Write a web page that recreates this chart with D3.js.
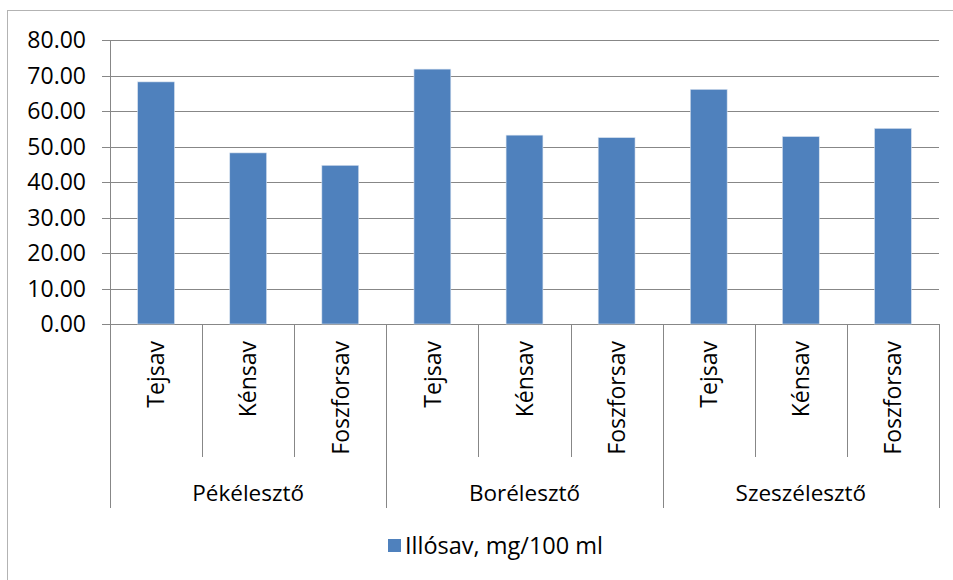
<!DOCTYPE html>
<html>
<head>
<meta charset="utf-8">
<script src="https://cdn.jsdelivr.net/npm/d3@7"></script>
<style>
  html, body { margin: 0; padding: 0; background: #fff; }
  svg { display: block; font-family: "Open Sans", "DejaVu Sans", sans-serif; }
</style>
</head>
<body>
<svg id="chart" width="953" height="580"></svg>
<script>
const groups = ["Pékélesztő", "Borélesztő", "Szeszélesztő"];
const acids = ["Tejsav", "Kénsav", "Foszforsav"];
const seriesName = "Illósav, mg/100 ml";
const values = [68.2, 48.2, 44.7, 71.8, 53.2, 52.5, 66.1, 52.8, 55.1];
const yTicks = [0, 10, 20, 30, 40, 50, 60, 70, 80];

(function () {
const svg = d3.select("#chart");
const W = 953, H = 580;
const pLeft = 110, pRight = 939, pTop = 40, pBottom = 324;
const gridColor = "#878787";
const barColor = "#4F81BD";

// outer chart border
svg.append("rect")
  .attr("x", 7.5).attr("y", 10.5)
  .attr("width", W + 20).attr("height", H + 20)
  .attr("fill", "none").attr("stroke", "#b3b3b3").attr("stroke-width", 1);

const cats = [];
groups.forEach((g, gi) => acids.forEach((a, ai) => cats.push({ key: gi + "-" + ai, group: g, acid: a, gi, ai })));
cats.forEach((c, i) => c.value = values[i]);

const x = d3.scaleBand().domain(cats.map(c => c.key)).range([pLeft, pRight])
  .paddingInner(0.6).paddingOuter(0.3);
const step = x.step();
const y = d3.scaleLinear().domain([0, 80]).range([pBottom, pTop]);

// gridlines
svg.append("g").selectAll("line").data(yTicks).join("line")
  .attr("x1", pLeft - 8).attr("x2", pRight)
  .attr("y1", d => Math.round(y(d)) + 0.5).attr("y2", d => Math.round(y(d)) + 0.5)
  .attr("stroke", gridColor).attr("stroke-width", 1);

// y axis line
svg.append("line")
  .attr("x1", pLeft + 0.5).attr("x2", pLeft + 0.5)
  .attr("y1", pTop).attr("y2", pBottom)
  .attr("stroke", gridColor);

// y labels
svg.append("g").selectAll("text").data(yTicks).join("text")
  .attr("x", 86).attr("y", d => y(d))
  .attr("dy", "0.36em")
  .attr("text-anchor", "end")
  .attr("font-size", 23).attr("fill", "#000")
  .text(d => d3.format(".2f")(d));

// bars
svg.append("g").selectAll("rect").data(cats).join("rect")
  .attr("x", d => x(d.key)).attr("width", x.bandwidth())
  .attr("y", d => y(d.value)).attr("height", d => y(0) - y(d.value))
  .attr("fill", barColor)
  .attr("stroke", "#d8e2ef").attr("stroke-width", 0.6);

// category dividers
const divs = d3.range(cats.length + 1).map(i => ({ x: pLeft + i * step, major: i % 3 === 0 }));
svg.append("g").selectAll("line").data(divs).join("line")
  .attr("x1", d => Math.round(d.x) + 0.5).attr("x2", d => Math.round(d.x) + 0.5)
  .attr("y1", pBottom).attr("y2", d => d.major ? 508 : 457)
  .attr("stroke", gridColor);

// rotated category labels
svg.append("g").selectAll("text").data(cats).join("text")
  .attr("transform", d => `translate(${x(d.key) + x.bandwidth() / 2},${pBottom + 17}) rotate(-90)`)
  .attr("dy", "0.36em")
  .attr("text-anchor", "end")
  .attr("font-size", 23).attr("fill", "#000")
  .text(d => d.acid);

// group labels
svg.append("g").selectAll("text").data(groups).join("text")
  .attr("x", (d, i) => pLeft + (i * 3 + 1.5) * step)
  .attr("y", 493).attr("dy", "0.35em")
  .attr("text-anchor", "middle")
  .attr("font-size", 22.5).attr("fill", "#000")
  .text(d => d);

// legend
const lg = svg.append("g");
lg.append("rect").attr("x", 388).attr("y", 539).attr("width", 13).attr("height", 13).attr("fill", barColor);
lg.append("text").attr("x", 405).attr("y", 545.5).attr("dy", "0.35em")
  .attr("font-size", 23.5).attr("fill", "#000").text(seriesName);
})();
</script>
</body>
</html>
